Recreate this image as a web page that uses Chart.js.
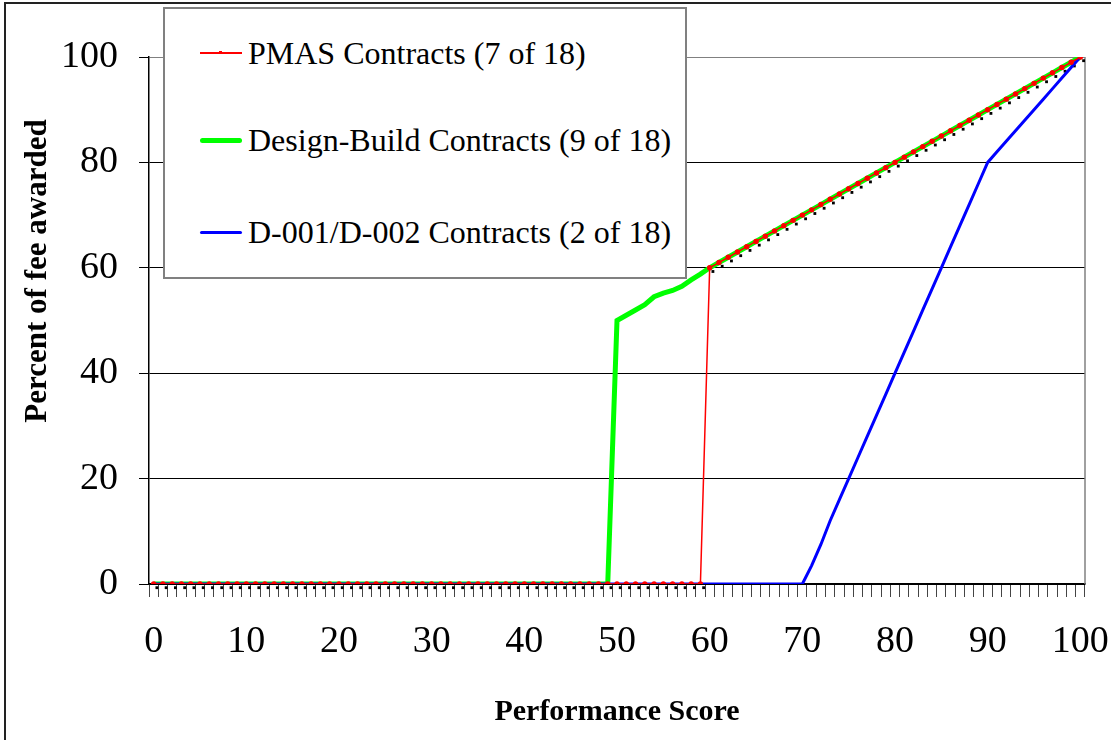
<!DOCTYPE html>
<html>
<head>
<meta charset="utf-8">
<title>Percent of fee awarded vs Performance Score</title>
<script src="https://cdn.jsdelivr.net/npm/chart.js@4.4.1/dist/chart.umd.min.js"></script>
<style>
  body { margin: 0; background: #fff; }
  #wrap { position: relative; width: 1111px; height: 740px; overflow: hidden; }
  #frame { position: absolute; left: 4px; top: 2px; right: -10px; bottom: -10px;
           border-left: 2px solid #222; border-top: 2px solid #222; pointer-events: none; }
  #y-title { position: absolute; left: -164px; top: 253px; width: 400px; line-height: 36px;
             text-align: center; font: bold 31px "Liberation Serif"; transform: rotate(-90deg); }
  #legend { position: absolute; left: 163px; top: 7px; width: 520px; height: 268px;
            border: 2px solid #808080; background: #fff; }
  .item { position: absolute; left: 35px; height: 38px; display: flex; align-items: center;
          font: 32px "Liberation Serif"; white-space: nowrap; }
  .swatch { position: relative; width: 42px; margin-right: 6px; }
</style>
</head>
<body>
<div id="wrap">
  <canvas id="feeChart"></canvas>
  <div id="y-title">Percent of fee awarded</div>
  <div id="legend"></div>
  <div id="frame"></div>
</div>
<script>
// Performance score categories 0..100
const scores = Array.from({ length: 101 }, (_, i) => String(i));
const yTicks = [0, 20, 40, 60, 80, 100];

// PMAS Contracts (7 of 18)
const pmas = [
  0, 0, 0, 0, 0, 0, 0, 0, 0, 0,
  0, 0, 0, 0, 0, 0, 0, 0, 0, 0,
  0, 0, 0, 0, 0, 0, 0, 0, 0, 0,
  0, 0, 0, 0, 0, 0, 0, 0, 0, 0,
  0, 0, 0, 0, 0, 0, 0, 0, 0, 0,
  0, 0, 0, 0, 0, 0, 0, 0, 0, 0,
  60, 61, 62, 63, 64, 65, 66, 67, 68, 69,
  70, 71, 72, 73, 74, 75, 76, 77, 78, 79,
  80, 81, 82, 83, 84, 85, 86, 87, 88, 89,
  90, 91, 92, 93, 94, 95, 96, 97, 98, 99,
  100
];

// Design-Build Contracts (9 of 18)
const designBuild = [
  0, 0, 0, 0, 0, 0, 0, 0, 0, 0,
  0, 0, 0, 0, 0, 0, 0, 0, 0, 0,
  0, 0, 0, 0, 0, 0, 0, 0, 0, 0,
  0, 0, 0, 0, 0, 0, 0, 0, 0, 0,
  0, 0, 0, 0, 0, 0, 0, 0, 0, 0,
  50, 51, 52, 53, 54.5, 55.2, 55.7, 56.5, 57.7, 58.8,
  60, 61, 62, 63, 64, 65, 66, 67, 68, 69,
  70, 71, 72, 73, 74, 75, 76, 77, 78, 79,
  80, 81, 82, 83, 84, 85, 86, 87, 88, 89,
  90, 91, 92, 93, 94, 95, 96, 97, 98, 99,
  100
];

// D-001/D-002 Contracts (2 of 18)
const d001 = [
  0, 0, 0, 0, 0, 0, 0, 0, 0, 0,
  0, 0, 0, 0, 0, 0, 0, 0, 0, 0,
  0, 0, 0, 0, 0, 0, 0, 0, 0, 0,
  0, 0, 0, 0, 0, 0, 0, 0, 0, 0,
  0, 0, 0, 0, 0, 0, 0, 0, 0, 0,
  0, 0, 0, 0, 0, 0, 0, 0, 0, 0,
  0, 0, 0, 0, 0, 0, 0, 0, 0, 0,
  0, 3.5, 7.5, 12, 16, 20, 24, 28, 32, 36,
  40, 44, 48, 52, 56, 60, 64, 68, 72, 76,
  80, 82, 84, 86, 88, 90, 92, 94, 96, 98,
  100
];

// order: lower is drawn on top
const series = [
  { name: 'PMAS Contracts (7 of 18)', data: pmas, color: '#ff0000', width: 1.5, dot: true, order: 0 },
  { name: 'Design-Build Contracts (9 of 18)', data: designBuild, color: '#00ff00', width: 5, order: 2 },
  { name: 'D-001/D-002 Contracts (2 of 18)', data: d001, color: '#0000ff', width: 3, order: 1 }
];

// html legend, drawn over the plot like the original
const legendRows = [25, 112, 204];
const legend = document.getElementById('legend');
series.forEach((s, i) => {
  const row = document.createElement('div');
  row.className = 'item';
  row.style.top = legendRows[i] + 'px';
  const sw = document.createElement('span');
  sw.className = 'swatch';
  sw.style.height = s.width + 'px';
  sw.style.background = s.color;
  sw.style.borderRadius = s.width > 2 ? '3px' : '0';
  if (s.dot) {
    sw.innerHTML = '<span style="position:absolute;left:19px;top:-1px;width:3px;height:3px;background:' + s.color + '"></span>';
  }
  row.appendChild(sw);
  row.appendChild(document.createTextNode(s.name));
  legend.appendChild(row);
});

// gray right edge of the plot area
const plotBorder = {
  id: 'plotBorder',
  beforeDatasetsDraw(chart) {
    const { ctx, chartArea: a } = chart;
    ctx.save();
    ctx.strokeStyle = '#808080';
    ctx.lineWidth = 1.5;
    ctx.beginPath();
    ctx.moveTo(a.right, a.top);
    ctx.lineTo(a.right, a.bottom);
    ctx.stroke();
    ctx.restore();
  }
};

const datasets = series.map(s => ({
  label: s.name,
  data: s.data,
  order: s.order,
  borderColor: s.color,
  backgroundColor: s.color,
  borderWidth: s.width,
  pointRadius: s.dot ? 2.7 : 0,
  pointBorderWidth: 0,
  pointBackgroundColor: s.color,
  tension: 0,
  fill: false
}));

// black dotted echo of the PMAS points, drawn slightly right and below
datasets.push({
  label: 'echo',
  order: 3,
  data: pmas.map((v, i) => ({ x: Number(scores[i]), y: v })),
  xAxisID: 'xs',
  yAxisID: 'ys',
  showLine: false,
  pointStyle: 'rect',
  pointRadius: 2,
  pointBorderWidth: 0,
  pointBackgroundColor: '#000',
  clip: false
});

const serif = '"Liberation Serif", "Times New Roman", serif';

new Chart(document.getElementById('feeChart'), {
  type: 'line',
  data: { labels: scores, datasets: datasets },
  plugins: [plotBorder],
  options: {
    responsive: true,
    maintainAspectRatio: false,
    animation: false,
    events: [],
    layout: { padding: { top: 57, right: 26, left: 0, bottom: 0 } },
    plugins: { legend: { display: false }, tooltip: { enabled: false } },
    scales: {
      x: {
        type: 'category',
        offset: true,
        afterFit: s => { s.height = 156; s.paddingLeft = 0; s.paddingRight = 0; },
        border: { display: true, color: '#000', width: 1.5 },
        grid: { offset: true, drawOnChartArea: false, drawTicks: true, tickLength: 13, tickColor: '#444', color: '#444' },
        ticks: {
          autoSkip: false, maxRotation: 0, color: '#000', padding: 22,
          font: { family: serif, size: 38 },
          callback: (v, i) => (i % 10 === 0 ? scores[i] : '')
        },
        title: {
          display: true, text: 'Performance Score', color: '#000',
          font: { family: serif, size: 30, weight: 'bold' },
          padding: { top: 0, bottom: 10 }
        }
      },
      y: {
        min: 0, max: 100,
        afterFit: s => { s.width = 149; s.paddingTop = 0; s.paddingBottom = 0; },
        afterBuildTicks: s => { s.ticks = yTicks.map(v => ({ value: v })); },
        border: { display: true, color: '#000', width: 1.5 },
        grid: {
          color: c => (c.tick && c.tick.value === 100 ? '#808080' : '#000'),
          lineWidth: 1, tickLength: 10, tickColor: '#000'
        },
        ticks: { color: '#000', padding: 21, font: { family: serif, size: 38 } }
      },
      xs: { type: 'linear', display: false, min: -0.85, max: 100.15 },
      ys: { type: 'linear', display: false, min: 0.7, max: 100.7 }
    }
  }
});
</script>
</body>
</html>
